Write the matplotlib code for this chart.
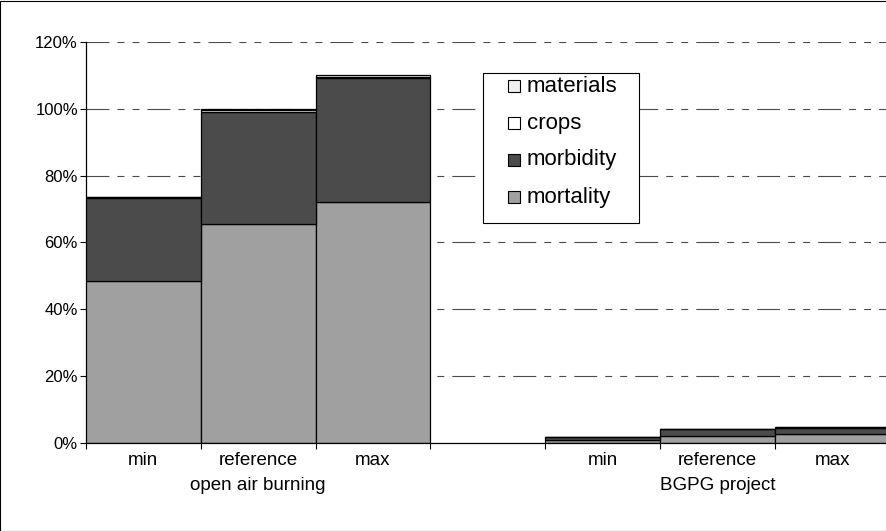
import matplotlib
matplotlib.use("Agg")
import matplotlib.pyplot as plt
import numpy as np
from matplotlib.patches import Rectangle
from matplotlib.ticker import FuncFormatter

plt.rcParams['font.family'] = ['Liberation Sans', 'DejaVu Sans']
plt.rcParams['lines.scale_dashes'] = False

# two scenarios, three cases each, one empty slot in between
groups     = ['open air burning', 'BGPG project']
cases      = ['min', 'reference', 'max']
mortality  = [48.4, 65.5, 72.2, 1.0, 2.1, 2.6]
morbidity  = [25.0, 33.7, 36.9, 0.9, 2.0, 2.0]
crops      = [0.1, 0.4, 0.4, 0.0, 0.05, 0.05]
materials  = [0.1, 0.4, 0.5, 0.0, 0.05, 0.05]

x = np.array([0, 1, 2, 4, 5, 6])   # slot 3 stays empty

W, H = 887, 531
fig = plt.figure(figsize=(W/100, H/100), dpi=100)
ax = fig.add_axes([86/W, (H-443)/H, 803.6/W, (443-42)/H])

def px(xp, yp):
    # pixel position (from top left) -> figure fraction
    return xp / W, 1 - yp / H

col_mort = '#a0a0a0'
col_morb = '#4b4b4b'
col_crop = '#ffffff'
col_mat  = '#f0f0f0'
ekw = dict(width=1.0, align='edge', edgecolor='black', linewidth=0.9, zorder=3)

b1 = np.array(mortality)
b2 = b1 + np.array(morbidity)
b3 = b2 + np.array(crops)
ax.bar(x, mortality, color=col_mort, **ekw)
ax.bar(x, morbidity, bottom=b1, color=col_morb, **ekw)
ax.bar(x, crops, bottom=b2, color=col_crop, **ekw)
ax.bar(x, materials, bottom=b3, color=col_mat, **ekw)

ax.set_xlim(0, 7)
ax.set_ylim(0, 120)
ax.set_yticks(np.arange(0, 121, 20))
ax.yaxis.set_major_formatter(FuncFormatter(lambda v, p: '%d%%' % v))
ax.tick_params(axis='y', direction='out', length=4.3, width=0.8, labelsize=12, pad=1.5)

# category labels at slot centres, tick marks at slot borders
ax.set_xticks(x + 0.5)
ax.set_xticklabels(cases * 2)
ax.set_xticks(np.arange(0, 8), minor=True)
ax.tick_params(axis='x', which='major', length=0, labelsize=13.5, pad=6.5)
ax.tick_params(axis='x', which='minor', direction='out', length=4.3, width=0.8)

for i, g in enumerate(groups):
    ax.text(1.5 + 4*i, -12.6, g, ha='center', va='center', fontsize=13.5,
            transform=ax.transData)

for yv in range(20, 121, 20):
    ax.axhline(yv, color='#4a4a4a', linewidth=0.8,
               linestyle=(0, (16.5, 5.8, 5, 5.8, 5, 5.8)), zorder=1)

for s in ['top', 'right']:
    ax.spines[s].set_visible(False)
ax.spines['left'].set_linewidth(0.9)
ax.spines['bottom'].set_linewidth(0.9)
ax.spines['bottom'].set_zorder(4)

# legend box drawn by hand, top entry = top of the stack
fig.patches.append(Rectangle(px(483, 223), 156/W, 150/H, transform=fig.transFigure,
                             facecolor='white', edgecolor='black', linewidth=0.8, zorder=5))
labels = ['materials', 'crops', 'morbidity', 'mortality']
colors = [col_mat, col_crop, col_morb, col_mort]
for k, (lab, c) in enumerate(zip(labels, colors)):
    yc = 86 + 37*k
    fig.patches.append(Rectangle(px(508, yc + 6), 12/W, 12/H, transform=fig.transFigure,
                                 facecolor=c, edgecolor='black', linewidth=0.8, zorder=6))
    fig.text(*px(527, yc), lab, fontsize=16, ha='left', va='center', zorder=6)

# outer chart frame (right edge lies past the picture)
fig.patches.append(Rectangle((0.5/W, 0.5/H), 1.2, 1-1.5/H, transform=fig.transFigure,
                             fill=False, edgecolor='black', linewidth=0.8))

fig.savefig('out.png', dpi=100)
